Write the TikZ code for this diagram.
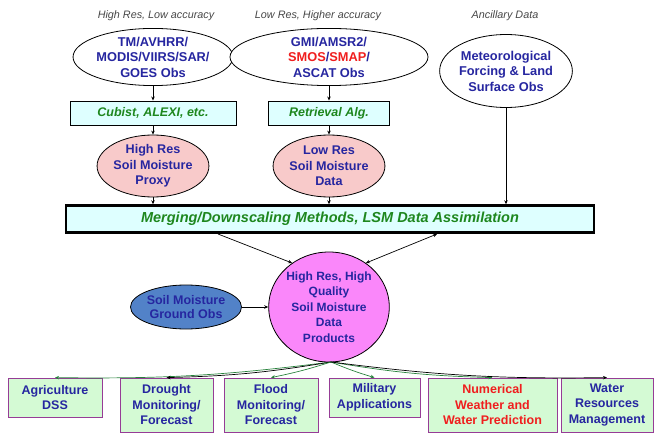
\documentclass[tikz,border=0pt]{standalone}
\usepackage{fontspec}
\setmainfont{Liberation Sans}
\usetikzlibrary{shapes.geometric,arrows.meta}
\definecolor{navyT}{RGB}{38,38,160}
\definecolor{cyanF}{RGB}{222,255,255}
\definecolor{pinkF}{RGB}{248,202,202}
\definecolor{violetF}{RGB}{250,135,250}
\definecolor{steelF}{RGB}{82,130,200}
\definecolor{greenF}{RGB}{212,250,212}
\definecolor{purpleB}{RGB}{150,60,150}
\definecolor{greenT}{RGB}{30,135,30}
\definecolor{redT}{RGB}{240,30,30}
\definecolor{greyT}{RGB}{70,70,70}
\definecolor{lineG}{RGB}{40,130,60}
\tikzset{
  toplabel/.style={font=\fontsize{10.8}{12}\selectfont\itshape, text=greyT},
  srcell/.style={ellipse, draw, line width=0.8pt, fill=white, inner sep=0pt, align=center,
     font=\fontsize{12.8}{15.5}\selectfont\bfseries, text=navyT},
  algbox/.style={rectangle, draw, line width=0.9pt, fill=cyanF, inner sep=0pt, align=center,
     font=\fontsize{12.5}{14}\selectfont\bfseries\itshape, text=greenT},
  pinkell/.style={ellipse, draw, line width=0.8pt, fill=pinkF, inner sep=0pt, align=center,
     font=\fontsize{12.6}{15.5}\selectfont\bfseries, text=navyT},
  appbox/.style={rectangle, draw=purpleB, line width=0.8pt, fill=greenF, inner sep=0pt, align=center,
     font=\fontsize{12.5}{15.5}\selectfont\bfseries, text=navyT},
  arr/.style={-{Stealth[length=4pt,width=3.5pt]}, line width=0.7pt},
}
\begin{document}
\begin{tikzpicture}[x=1pt,y=-1pt]
\useasboundingbox (0,0) rectangle (654,433);
% top labels
\node[toplabel] (l1) at (156,16) {High Res, Low accuracy};
\node[toplabel] (l2) at (318,16) {Low Res, Higher accuracy};
\node[toplabel] (l3) at (505,16) {Ancillary Data};
% source ellipses
\node[srcell, minimum width=143pt, minimum height=54pt] (tm) at (153,57)
  {TM/AVHRR/\\MODIS/VIIRS/SAR/\\GOES Obs};
\node[srcell, minimum width=198pt, minimum height=54pt] (gmi) at (329,57)
  {GMI/AMSR2/\\\textcolor{redT}{SMOS}/\textcolor{redT}{SMAP}/\\ASCAT Obs};
\node[srcell, minimum width=122pt, minimum height=73pt] (met) at (506,71)
  {Meteorological\\Forcing \& Land\\Surface Obs};
% algorithm boxes
\node[algbox, minimum width=166pt, minimum height=24pt] (cub) at (153,113) {Cubist, ALEXI, etc.};
\node[algbox, minimum width=121pt, minimum height=24pt] (ret) at (329,113) {Retrieval Alg.};
% pink ellipses
\node[pinkell, minimum width=110pt, minimum height=62pt] (hrp) at (153,166)
  {High Res\\Soil Moisture\\Proxy};
\node[pinkell, minimum width=110pt, minimum height=62pt] (lrd) at (329,166)
  {Low Res\\Soil Moisture\\Data};
% merging box
\node[algbox, line width=2.4pt, minimum width=528pt, minimum height=27pt,
      font=\fontsize{14.5}{16}\selectfont\bfseries\itshape] (mrg) at (330,219)
  {Merging/Downscaling Methods, LSM Data Assimilation};
% product circle
\node[ellipse, draw, line width=0.8pt, fill=violetF, inner sep=0pt, minimum width=112pt,
      minimum height=110pt, align=center, font=\fontsize{12}{15.5}\selectfont\bfseries, text=navyT]
  (prd) at (329,307) {High Res, High\\Quality\\Soil Moisture\\Data\\Products};
% ground obs
\node[ellipse, draw, line width=0.8pt, fill=steelF, inner sep=0pt, minimum width=111pt,
      minimum height=44pt, align=center, font=\fontsize{12.5}{14}\selectfont\bfseries, text=navyT]
  (gnd) at (186,307) {Soil Moisture\\Ground Obs};
% application boxes
\node[appbox, minimum width=94pt, minimum height=39pt] (agr) at (55,397.5) {Agriculture\\DSS};
\node[appbox, minimum width=93pt, minimum height=54pt] (dro) at (166.5,405) {Drought\\Monitoring/\\Forecast};
\node[appbox, minimum width=94pt, minimum height=54pt] (flo) at (271,405) {Flood\\Monitoring/\\Forecast};
\node[appbox, minimum width=91pt, minimum height=39pt] (mil) at (374.5,397.5) {Military\\Applications};
\node[appbox, minimum width=129pt, minimum height=54pt, text=redT] (nwp) at (492.5,405)
  {Numerical\\Weather and\\Water Prediction};
\node[appbox, minimum width=92pt, minimum height=54pt] (wat) at (607,405) {Water\\Resources\\Management};
% connectors
\draw[arr] (tm.south) -- (cub.north);
\draw[arr] (gmi.south) -- (ret.north);
\draw[arr] (cub.south) -- (hrp.north);
\draw[arr] (ret.south) -- (lrd.north);
\draw[arr] (hrp.south) -- (hrp.south |- mrg.north);
\draw[arr] (lrd.south) -- (lrd.south |- mrg.north);
\draw[arr] (met.south) -- (met.south |- mrg.north);
\coordinate (m1) at (218,234);
\coordinate (m2) at (437,234);
\draw[arr] (m1) -- (prd.130);
\draw[arr, {Stealth[length=4pt,width=3.5pt]}-{Stealth[length=4pt,width=3.5pt]}] (prd.50) -- (m2);
\draw[arr] (gnd.east) -- (prd.west);
\coordinate (pb) at (331,362);
\draw[arr, lineG] (pb) to[bend left=4] (agr.north);
\draw[arr] (pb) to[bend left=4] (dro.north);
\draw[arr, lineG] (pb) to[bend left=3] (flo.north);
\draw[arr, lineG] (pb) to[bend right=3] (mil.north);
\draw[arr, lineG] (pb) to[bend right=4] (nwp.north);
\draw[arr] (pb) to[bend right=4] (wat.north);
\end{tikzpicture}
\end{document}
